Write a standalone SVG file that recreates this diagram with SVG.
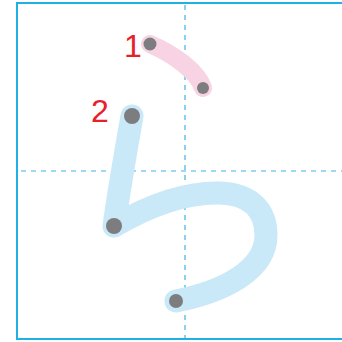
<svg xmlns="http://www.w3.org/2000/svg" width="342" height="342" viewBox="0 0 342 342">
<style>
.guide{stroke:#3fb2e4;stroke-width:1.2;stroke-dasharray:5 5;fill:none}
.stroke{fill:none;stroke-linecap:round;stroke-linejoin:round}
.dot{fill:#7d7d80}
.num{font-family:"Liberation Sans",Arial,sans-serif;font-size:32px;fill:#e8202a}
</style>
<rect x="0" y="0" width="342" height="342" fill="#ffffff"/>
<g id="grid">
<rect x="17" y="3" width="338" height="336" fill="none" stroke="#1fb1e6" stroke-width="2"/>
<line class="guide" x1="185" y1="5" x2="185" y2="338"/>
<line class="guide" x1="21" y1="171" x2="342" y2="171"/>
</g>
<g id="connectors">
<path id="stroke1" class="stroke" d="M150,44 C175,55 198,72 203,88" stroke="#f8d3e3" stroke-width="18"/>
<path id="stroke2" class="stroke" d="M132,116 C126,150 119,190 114,226 C150,205 185,192 220,193 C252,194 266,212 266,235 C266,271 222,292 176,301" stroke="#c9e8f8" stroke-width="23"/>
</g>
<g id="node1">
<circle class="dot" cx="150" cy="44" r="6.5"/>
<circle class="dot" cx="203" cy="88" r="6"/>
<text class="num" x="124" y="57">1</text>
</g>
<g id="node2">
<circle class="dot" cx="132" cy="116" r="8"/>
<circle class="dot" cx="114" cy="226" r="8"/>
<circle class="dot" cx="176" cy="301" r="7"/>
<text class="num" x="91" y="122">2</text>
</g>
</svg>
